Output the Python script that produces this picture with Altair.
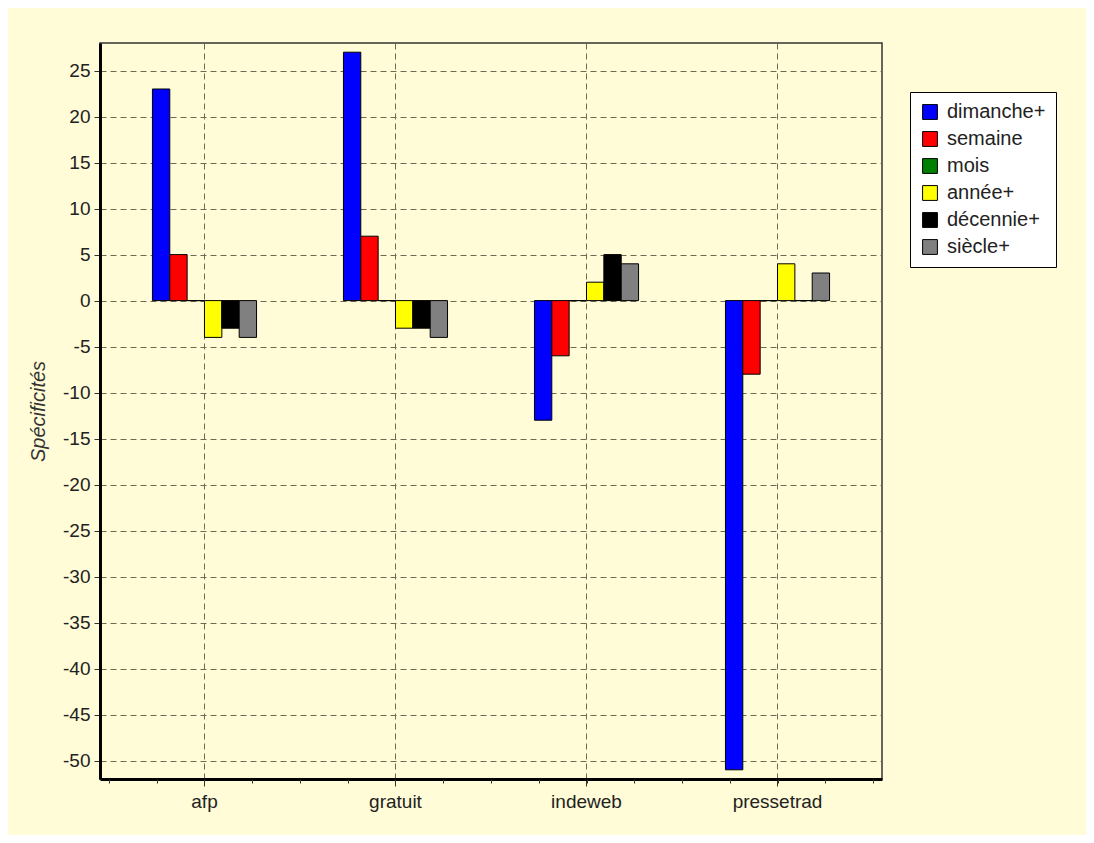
import altair as alt
import pandas as pd

categories = ["afp", "gratuit", "indeweb", "pressetrad"]
series = ["dimanche+", "semaine", "mois", "année+", "décennie+", "siècle+"]
dimanche = [23, 27, -13, -51]
semaine = [5, 7, -6, -8]
mois = [0, 0, 0, 0]
annee = [-4, -3, 2, 4]
decennie = [-3, -3, 5, 0]
siecle = [-4, -4, 4, 3]
colors = ["#0000FF", "#FF0000", "#008000", "#FFFF00", "#000000", "#808080"]
y_ticks = list(range(-50, 30, 5))

rows = []
for s, vals in zip(series, [dimanche, semaine, mois, annee, decennie, siecle]):
    for c, v in zip(categories, vals):
        rows.append({"cat": c, "serie": s, "val": v})
df = pd.DataFrame(rows)

W, H = 782, 736
PI, PO = 0.455, 0.2745
BG = "#FFFCD7"
GRID = "#6E6B52"
FONT = "Liberation Sans"

# minor tick layout (quarter steps of the band scale)
n = len(categories)
units = n - PI + 2 * PO
c0 = PO + (1 - PI) / 2
minor_domain = [-4 * c0, 4 * (units - c0)]

bars = alt.Chart(df).mark_bar(stroke="black", strokeWidth=1).encode(
    x=alt.X(
        "cat:N",
        sort=categories,
        title=None,
        scale=alt.Scale(paddingInner=PI, paddingOuter=PO),
        axis=alt.Axis(
            labelAngle=0,
            grid=True,
            bandPosition=0.5,
            gridDash=[6, 4],
            gridColor=GRID,
            gridWidth=1,
            gridOpacity=1,
            domainColor="black",
            domainWidth=3,
            tickColor="#333",
            tickSize=7,
            tickWidth=1,
            labelFont=FONT,
            labelFontSize=19,
            labelColor="#222",
            labelPadding=6,
        ),
    ),
    xOffset=alt.XOffset("serie:N", sort=series, scale=alt.Scale(paddingInner=0, paddingOuter=0)),
    y=alt.Y(
        "val:Q",
        scale=alt.Scale(domain=[-52, 28], nice=False, zero=False),
        axis=alt.Axis(
            values=y_ticks,
            labelExpr="datum.value < 0 ? '-' + abs(datum.value) : '' + datum.value",
            title="Spécificités",
            titleFont=FONT,
            titleFontSize=20,
            titleFontStyle="italic",
            titleFontWeight="normal",
            titleColor="#333",
            titlePadding=14,
            grid=True,
            gridDash=[6, 4],
            gridColor=GRID,
            gridWidth=1,
            gridOpacity=1,
            domainColor="black",
            domainWidth=3,
            tickColor="#333",
            tickSize=6,
            labelFont=FONT,
            labelFontSize=19,
            labelColor="#222",
            labelPadding=4,
        ),
    ),
    color=alt.Color(
        "serie:N",
        sort=series,
        scale=alt.Scale(domain=series, range=colors),
        legend=alt.Legend(
            title=None,
            orient="none",
            legendX=810,
            legendY=49,
            fillColor="white",
            strokeColor="black",
            padding=10,
            symbolType="square",
            symbolSize=220,
            symbolStrokeColor="black",
            symbolStrokeWidth=1,
            symbolOpacity=1,
            labelFont=FONT,
            labelFontSize=20,
            labelColor="#222",
            labelOffset=7,
            rowPadding=7,
        ),
    ),
)

minor = alt.Chart(alt.sequence(-2, 15, as_="k")).mark_point(opacity=0, size=0).encode(
    x=alt.X(
        "k:Q",
        scale=alt.Scale(domain=minor_domain, nice=False, zero=False),
        axis=alt.Axis(
            orient="bottom",
            values=list(range(-2, 15)),
            labels=False,
            domain=False,
            grid=False,
            title=None,
            tickSize=4,
            tickColor="#333",
            tickWidth=1,
        ),
    ),
    y=alt.value(0),
)

chart = (
    alt.layer(bars, minor)
    .resolve_scale(x="independent")
    .properties(
        width=W,
        height=H,
        background=BG,
        autosize=alt.AutoSizeParams(type="none"),
        padding={"left": 92, "top": 35, "right": 204, "bottom": 56},
    )
    .configure_view(fill=BG, stroke="#333", strokeWidth=1.5)
)

chart.save("out.html", embed_options={"renderer": "svg", "actions": False})
